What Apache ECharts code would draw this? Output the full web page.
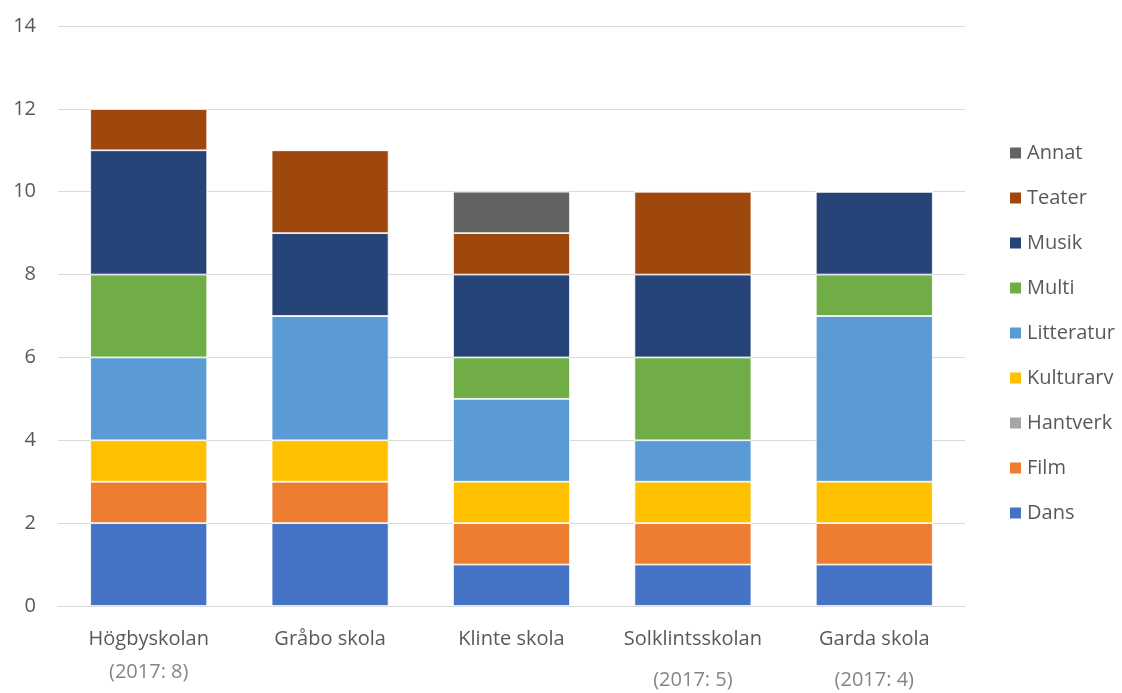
<!DOCTYPE html>
<html>
<head>
<meta charset="utf-8">
<script src="https://cdn.jsdelivr.net/npm/echarts@6/dist/echarts.min.js"></script>
<style>
  html, body { margin: 0; padding: 0; background: #fff; }
  #chart { width: 1122px; height: 693px; }
</style>
</head>
<body>
<div id="chart"></div>
<script>
// skolor och underrubriker
var categories = ['Högbyskolan', 'Gråbo skola', 'Klinte skola', 'Solklintsskolan', 'Garda skola'];
var subLabels = ['(2017: 8)', '', '', '(2017: 5)', '(2017: 4)'];

// antal per kategori
var dans       = [2, 2, 1, 1, 1];
var film       = [1, 1, 1, 1, 1];
var hantverk   = [0, 0, 0, 0, 0];
var kulturarv  = [1, 1, 1, 1, 1];
var litteratur = [2, 3, 2, 1, 4];
var multi      = [2, 0, 1, 2, 1];
var musik      = [3, 2, 2, 2, 2];
var teater     = [1, 2, 1, 2, 0];
var annat      = [0, 0, 1, 0, 0];

var yTicks = [0, 2, 4, 6, 8, 10, 12, 14];

var seriesDefs = [
  { name: 'Dans', data: dans, color: '#4472C4' },
  { name: 'Film', data: film, color: '#ED7D31' },
  { name: 'Hantverk', data: hantverk, color: '#A5A5A5' },
  { name: 'Kulturarv', data: kulturarv, color: '#FFC000' },
  { name: 'Litteratur', data: litteratur, color: '#5B9BD5' },
  { name: 'Multi', data: multi, color: '#70AD47' },
  { name: 'Musik', data: musik, color: '#264478' },
  { name: 'Teater', data: teater, color: '#9E480E' },
  { name: 'Annat', data: annat, color: '#636363' }
];

var font = 'Open Sans';
var fs = 20;

var chart = echarts.init(document.getElementById('chart'));
chart.setOption({
  animation: false,
  textStyle: { fontFamily: font },
  grid: { left: 58, right: 157, top: 26, bottom: 87 },
  legend: {
    orient: 'vertical',
    left: 1008,
    top: 143,
    padding: 0,
    itemWidth: 13,
    itemHeight: 13,
    itemGap: 25,
    icon: 'rect',
    textStyle: { fontSize: fs, color: '#595959', lineHeight: 20, fontFamily: font },
    data: seriesDefs.map(function (s) { return s.name; }).reverse()
  },
  xAxis: {
    type: 'category',
    data: categories,
    axisTick: { show: false },
    axisLine: { lineStyle: { color: '#d9d9d9', width: 1 } },
    axisLabel: {
      margin: 17,
      formatter: function (v, i) {
        var sub = subLabels[i];
        if (!sub) return '{a|' + v + '}';
        return '{a|' + v + '}\n' + (i === 0 ? '{b|' : '{c|') + sub + '}';
      },
      rich: {
        a: { fontSize: fs, color: '#595959', lineHeight: 33, fontFamily: font },
        b: { fontSize: fs, color: '#858585', lineHeight: 33, fontFamily: font },
        c: { fontSize: fs, color: '#858585', lineHeight: 49, fontFamily: font }
      }
    }
  },
  yAxis: {
    type: 'value',
    min: yTicks[0],
    max: yTicks[yTicks.length - 1],
    interval: 2,
    axisLine: { show: false },
    axisTick: { show: false },
    splitLine: { lineStyle: { color: '#d9d9d9', width: 1 } },
    axisLabel: { fontSize: fs, color: '#595959', margin: 22, fontFamily: font }
  },
  series: seriesDefs.map(function (s) {
    return {
      name: s.name,
      type: 'bar',
      stack: 'total',
      barWidth: 117,
      data: s.data,
      itemStyle: { color: s.color, borderColor: '#fff', borderWidth: 0.8 }
    };
  })
});
</script>
</body>
</html>
